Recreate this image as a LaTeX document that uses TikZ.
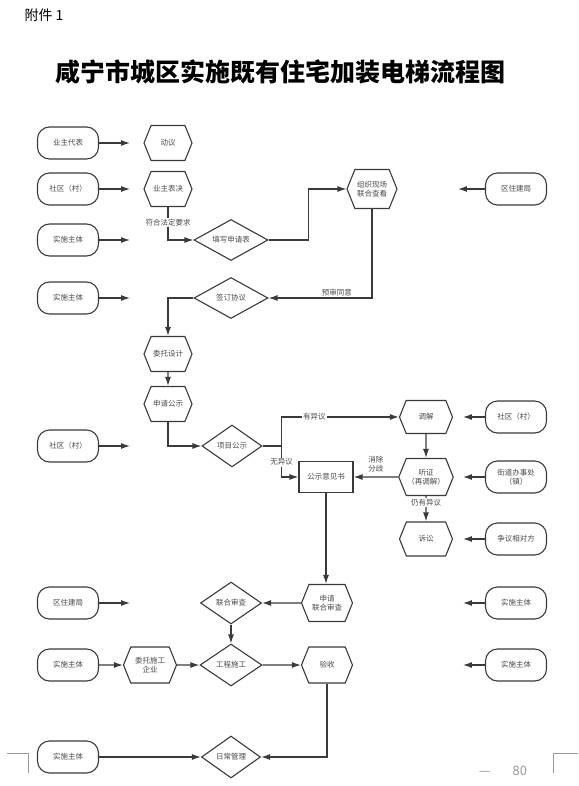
\documentclass[tikz,border=0pt]{standalone}
\usepackage{fontspec}
\setmainfont{Noto Sans CJK SC}
\usepackage{xcolor}
\definecolor{linecol}{HTML}{3A3A3A}
\definecolor{textcol}{HTML}{4A4A4A}
\definecolor{markcol}{HTML}{999999}
\usepackage{tikz}
\usetikzlibrary{shapes.geometric,shapes.symbols,arrows.meta,positioning}

\begin{document}
\begin{tikzpicture}[x=1pt, y=1pt, node distance = 10pt, terminal/.style={
					rectangle, minimum width = 61pt, minimum height = 32pt, rounded corners = 12pt,
					line width = 1.1pt, draw = linecol, fill = white, text = textcol,
					font = \fontsize{7.5}{9}\selectfont, align = center},
		hexa/.style={signal, signal to = east and west, signal pointer angle = 136,
					minimum width = 48pt, minimum height = 35pt, inner xsep = 1pt, inner ysep = 1pt,
					line width = 1.1pt, draw = linecol, fill = white, text = textcol,
					font = \fontsize{7.5}{9}\selectfont, align = center},
		decision/.style={diamond, aspect = 1.8, minimum width = 74pt, minimum height = 41pt, inner sep = 0pt,
					line width = 1.1pt, draw = linecol, fill = white, text = textcol,
					font = \fontsize{7.5}{9}\selectfont, align = center},
		box/.style={rectangle, minimum width = 54pt, minimum height = 31pt,
					line width = 1.1pt, draw = linecol, fill = white, text = textcol,
					font = \fontsize{7.5}{9}\selectfont, align = center},
		lbl/.style={fill = white, inner sep = 1pt, text = textcol,
					font = \fontsize{7.5}{9}\selectfont, align = center},
		arr/.style={line width = 1.2pt, draw = linecol, -{Latex[length=9pt,width=6pt]}},
		line/.style={line width = 1.2pt, draw = linecol}]
		\useasboundingbox (0,0) rectangle (578,-786);
		% page head
		\node (HEAD) [anchor = west, font = \fontsize{14}{14}\selectfont] at (21,-15) {附件 1};
		\node (TITLE) [font = \fontsize{25}{25}\selectfont\bfseries] at (280,-72) {咸宁市城区实施既有住宅加装电梯流程图};
		% left column
		\node (L1) [terminal] at (68,-143) {业主代表};
		\node (L2) [terminal,  below=46pt of L1.center,anchor=center] {社区（村）};
		\node (L3) [terminal,  below=51pt of L2.center,anchor=center] {实施主体};
		\node (L4) [terminal,  below=58pt of L3.center,anchor=center] {实施主体};
		\node (L5) [terminal,  below=148pt of L4.center,anchor=center] {社区（村）};
		\node (L6) [terminal,  below=157pt of L5.center,anchor=center] {区住建局};
		\node (L7) [terminal,  below=62pt of L6.center,anchor=center] {实施主体};
		\node (L8) [terminal,  below=92pt of L7.center,anchor=center] {实施主体};
		% main flow
		\node (A) [hexa,  right=100pt of L1.center,anchor=center] {动议};
		\node (B) [hexa,  right=100pt of L2.center,anchor=center] {业主表决};
		\node (C) [decision,  right=163pt of L3.center,anchor=center] {填写申请表};
		\node (D) [hexa, minimum width = 50pt, minimum height = 39pt,  right=204pt of B.center,anchor=center] {组织现场\\联合查看};
		\node (E) [decision,  right=163pt of L4.center,anchor=center] {签订协议};
		\node (F) [hexa,  below=165pt of B.center,anchor=center] {委托设计};
		\node (G) [hexa,  below=50pt of F.center,anchor=center] {申请公示};
		\node (H) [decision, minimum width = 60pt, minimum height = 42pt,  right=164pt of L5.center,anchor=center] {项目公示};
		\node (I) [box,  below right=31pt and 94pt of H.center,anchor=center] {公示意见书};
		\node (K) [hexa, minimum width = 53pt, minimum height = 37pt,  right=100pt of I.center,anchor=center] {听证\\（再调解）};
		\node (J) [hexa, minimum width = 53pt, minimum height = 33pt,  above=60pt of K.center,anchor=center] {调解};
		\node (S) [hexa, minimum width = 53pt, minimum height = 34pt,  below=62pt of K.center,anchor=center] {诉讼};
		\node (M) [decision, minimum width = 61pt, minimum height = 42pt,  right=163pt of L6.center,anchor=center] {联合审查};
		\node (N) [decision, minimum width = 62pt, minimum height = 42pt,  right=163pt of L7.center,anchor=center] {工程施工};
		\node (P) [decision, minimum width = 59pt, minimum height = 42pt,  right=163pt of L8.center,anchor=center] {日常管理};
		\node (Q) [hexa, minimum width = 51pt, minimum height = 37pt,  right=96pt of M.center,anchor=center] {申请\\联合审查};
		\node (W) [hexa, minimum width = 53pt, minimum height = 36pt,  right=82pt of L7.center,anchor=center] {委托施工\\企业};
		\node (V) [hexa, minimum width = 51pt, minimum height = 36pt,  right=96pt of N.center,anchor=center] {验收};
		% right column
		\node (R1) [terminal,  right=144pt of D.center,anchor=center] {区住建局};
		\node (R2) [terminal,  right=90pt of J.center,anchor=center] {社区（村）};
		\node (R3) [terminal,  right=90pt of K.center,anchor=center] {街道办事处\\（镇）};
		\node (R4) [terminal,  right=90pt of S.center,anchor=center] {争议相对方};
		\node (R5) [terminal,  right=189pt of Q.center,anchor=center] {实施主体};
		\node (R6) [terminal,  right=189pt of V.center,anchor=center] {实施主体};
		% free arrow ends
		\coordinate [right=31pt of L1.east] (l1);
		\coordinate [right=31pt of L2.east] (l2);
		\coordinate [right=31pt of L3.east] (l3);
		\coordinate [right=31pt of L4.east] (l4);
		\coordinate [right=31pt of L5.east] (l5);
		\coordinate [right=31pt of L6.east] (l6);
		\coordinate [left=27pt of R1.west] (r1);
		\coordinate [left=22pt of R2.west] (r2);
		\coordinate [left=22pt of R3.west] (r3);
		\coordinate [left=22pt of R4.west] (r4);
		\coordinate [left=22pt of R5.west] (r5);
		\coordinate [left=22pt of R6.west] (r6);
		\coordinate [right=19pt of H.east] (h);
		% connectors
		\draw [arr] (L1.east) -- (l1);
		\draw [arr] (L2.east) -- (l2);
		\draw [arr] (L3.east) -- (l3);
		\draw [arr] (L4.east) -- (l4);
		\draw [arr] (L5.east) -- (l5);
		\draw [arr] (L6.east) -- (l6);
		\draw [arr] (R1.west) -- (r1);
		\draw [arr] (R2.west) -- (r2);
		\draw [arr] (R3.west) -- (r3);
		\draw [arr] (R4.west) -- (r4);
		\draw [arr] (R5.west) -- (r5);
		\draw [arr] (R6.west) -- (r6);
		\draw [arr] (B.south) |- node [lbl, pos=0.24] {符合法定要求} (C.west);
		\draw [arr] (C.east) -- ++(40pt,0) |- (D.west);
		\draw [arr] (D.south) |- node [lbl, above, pos=0.67] {预审同意} (E.east);
		\draw [arr] (E.west) -| (F.north);
		\draw [arr] (F) -- (G);
		\draw [arr] (G.south) |- (H.west);
		\draw [line] (H.east) -- (h);
		\draw [arr] (h) |- node [lbl, pos=0.64] {有异议} (J.west);
		\draw [arr] (h) |- node [lbl, pos=0.26] {无异议} (I.west);
		\draw [arr] (J) -- (K);
		\draw [arr] (K) -- node [lbl, above=3pt] {消除\\分歧} (I);
		\draw [arr] (K) -- node [lbl, pos=0.27] {仍有异议} (S);
		\draw [arr] (I.south) -- (I.south |- Q.north);
		\draw [arr] (Q) -- (M);
		\draw [arr] (M) -- (N);
		\draw [arr] (L7) -- (W);
		\draw [arr] (W) -- (N);
		\draw [arr] (N) -- (V);
		\draw [arr] (V.south) |- (P.east);
		\draw [arr] (L8) -- (P);
		% page foot
		\draw [markcol, line width = 0.6pt] (7,-753) -- (28,-753) -- (28,-773);
		\draw [markcol, line width = 0.6pt] (553,-773) -- (553,-753) -- (578,-753);
		\node (PAGE) [text = markcol, font = \fontsize{13}{13}\selectfont] at (503,-771) {—\hspace{22pt}80};
	\end{tikzpicture}
\end{document}
